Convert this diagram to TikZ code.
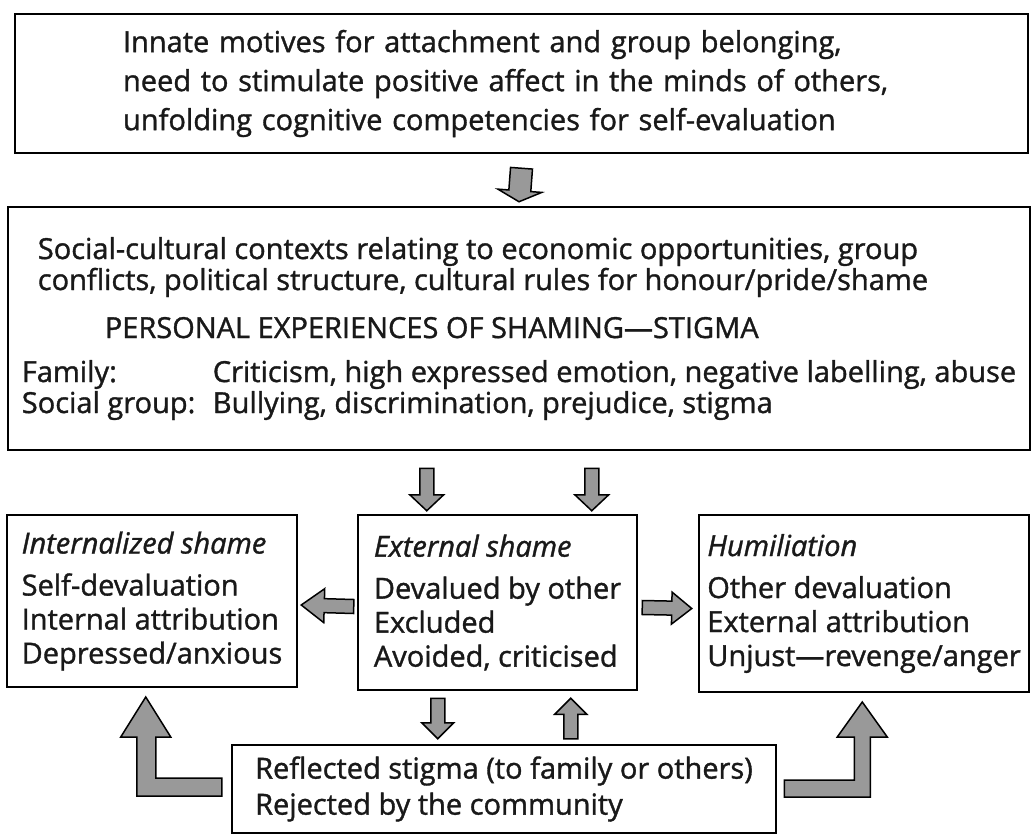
\documentclass[tikz,border=0pt]{standalone}
\usepackage{fontspec}
\setmainfont{Open Sans}
\usetikzlibrary{calc}

\tikzset{
  caja/.style={draw=black, line width=2.5pt, align=left, inner sep=0pt,
    font=\fontsize{29}{34}\selectfont\addfontfeature{FakeBold=1.2}, text=black!90},
  flecha/.style={draw=black, line width=1.5pt, fill=black!40, line join=miter},
}

% flecha gruesa: base, punta, medio ancho, medio ancho de la punta, largo de la punta
\newcommand{\flechagorda}[5]{%
  \coordinate (fbase) at (#1);
  \coordinate (fpunta) at (#2);
  \coordinate (fcuello) at ($(fpunta)!#5!(fbase)$);
  \draw[flecha] ($(fbase)!#3!90:(fpunta)$) -- ($(fcuello)!#3!90:(fpunta)$)
    -- ($(fcuello)!#4!90:(fpunta)$) -- (fpunta)
    -- ($(fcuello)!#4!-90:(fpunta)$) -- ($(fcuello)!#3!-90:(fpunta)$)
    -- ($(fbase)!#3!-90:(fpunta)$) -- cycle;}

\begin{document}
\begin{tikzpicture}[x=1pt,y=-1pt]
  \useasboundingbox (0,0) rectangle (1032,837);

  % Cajas
  \node[caja, minimum width=1013pt, minimum height=139pt, inner xsep=108pt, text width=797pt]
    (innate) at (521.5,83.5)
    {Innate motives for attachment and group belonging,\\[5pt]
     need to stimulate positive affect in the minds of others,\\[5pt]
     unfolding cognitive competencies for self-evaluation};

  \node[caja, minimum width=1022pt, minimum height=243pt] (context) at (519,328.5)
    {\hspace*{16pt}Social-cultural contexts relating to economic opportunities, group\\[-3pt]
     \hspace*{16pt}conflicts, political structure, cultural rules for honour/pride/shame\\[14pt]
     \hspace*{83pt}PERSONAL EXPERIENCES OF SHAMING—STIGMA\\[10pt]
     \makebox[191pt][l]{Family:}Criticism, high expressed emotion, negative labelling, abuse\\[-3pt]
     \makebox[191pt][l]{Social group:}Bullying, discrimination, prejudice, stigma};

  \node[caja, minimum width=290pt, minimum height=172pt] (internal) at (152,601)
    {\textit{Internalized shame}\\[8pt]
     Self-devaluation\\
     Internal attribution\\
     Depressed/anxious};

  \node[caja, minimum width=279pt, minimum height=175pt] (external) at (497.5,602.5)
    {\textit{External shame}\\[8pt]
     Devalued by other\\
     Excluded\\
     Avoided, criticised};

  \node[caja, minimum width=330pt, minimum height=177pt] (humil) at (864,603.5)
    {\textit{Humiliation}\\[8pt]
     Other devaluation\\
     External attribution\\
     Unjust—revenge/anger};

  \node[caja, minimum width=544pt, minimum height=88pt] (reflected) at (504,789)
    {Reflected stigma (to family or others)\\[2pt]
     Rejected by the community};

  % Flechas
  \flechagorda{$(innate.south)+(0,14)$}{$(context.north)+(0,-4)$}{11pt}{22pt}{11pt}
  \flechagorda{$(context.south -| external.north west)+(70,17)$}{$(external.north west)+(70,-3)$}{7pt}{17pt}{16pt}
  \flechagorda{$(context.south -| external.north west)+(235,17)$}{$(external.north west)+(235,-3)$}{7pt}{17pt}{16pt}
  \flechagorda{$(external.west)+(-3,4)$}{$(internal.east)+(3,4)$}{7pt}{17pt}{23pt}
  \flechagorda{$(external.east)+(4,5)$}{$(humil.west)+(-6,5)$}{7pt}{16pt}{20pt}
  \flechagorda{$(external.south west)+(81,7)$}{$(reflected.north -| external.south west)+(81,-5)$}{7pt}{16pt}{16pt}
  \flechagorda{$(reflected.north -| external.south west)+(214,-5)$}{$(external.south west)+(214,7)$}{7pt}{16pt}{16pt}

  \draw[flecha] ($(reflected.west)+(-9,7)$) -- ++(-85,0) -- ++(0,-59) -- ++(-16,0)
    -- ++(25,-40) -- ++(25,40) -- ++(-15,0) -- ++(0,41) -- ++(66,0) -- cycle;
  \draw[flecha] ($(reflected.east)+(7,8)$) -- ++(86,0) -- ++(0,-60) -- ++(17,0)
    -- ++(-25,-35) -- ++(-25,35) -- ++(17,0) -- ++(0,43) -- ++(-70,0) -- cycle;
\end{tikzpicture}
\end{document}
